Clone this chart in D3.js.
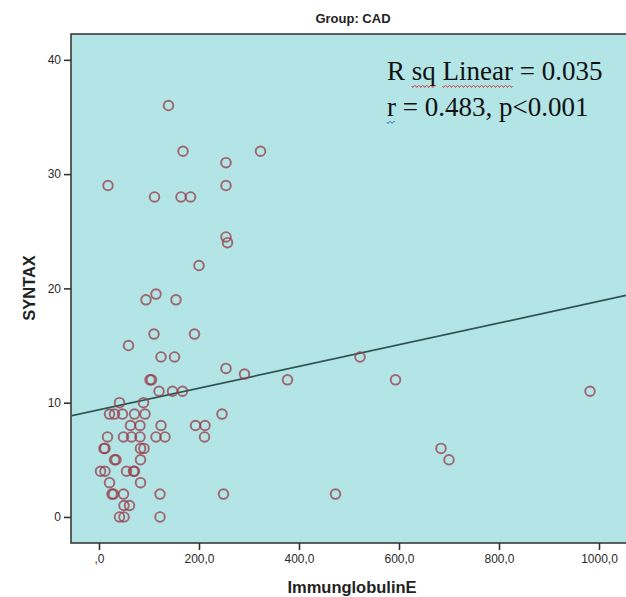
<!DOCTYPE html>
<html>
<head>
<meta charset="utf-8">
<script src="https://cdn.jsdelivr.net/npm/d3@7"></script>
<style>
	body { margin: 0; background: #fff; }
	svg { display: block; }
</style>
</head>
<body>
<div id="graph"></div>
<script>
// IgE (x) vs SYNTAX score (y)
var ige = [139, 168, 323, 254, 18, 254, 111, 164, 183, 254, 257, 200, 114, 94, 154,
	110, 191, 59, 124, 151, 522, 254, 291, 102, 105, 377, 593, 120, 147, 167, 982,
	41, 89, 21, 31, 47, 71, 92, 246, 63, 82, 124, 193, 212, 17, 49, 65, 82, 114, 132,
	211, 10, 12, 83, 90, 684, 31, 34, 83, 700, 3, 12, 55, 69, 71, 21, 83, 26, 29, 49,
	122, 249, 473, 50, 61, 41, 50, 122];
var syntax = [36, 32, 32, 31, 29, 29, 28, 28, 28, 24.5, 24, 22, 19.5, 19, 19,
	16, 16, 15, 14, 14, 14, 13, 12.5, 12, 12, 12, 12, 11, 11, 11, 11,
	10, 10, 9, 9, 9, 9, 9, 9, 8, 8, 8, 8, 8, 7, 7, 7, 7, 7, 7,
	7, 6, 6, 6, 6, 6, 5, 5, 5, 5, 4, 4, 4, 4, 4, 3, 3, 2, 2, 2,
	2, 2, 2, 1, 1, 0, 0, 0];
var xTicks = [0, 200, 400, 600, 800, 1000];
var xTickLabels = [",0", "200,0", "400,0", "600,0", "800,0", "1000,0"];
var yTicks = [0, 10, 20, 30, 40];
var fitIntercept = 9.37;
var fitSlope = 0.0095;
var title = "Group: CAD";
var xName = "ImmunglobulinE";
var yName = "SYNTAX";

var w = 626, h = 597;
var plotLeft = 71, plotTop = 34, plotRight = 626, plotBottom = 543;

var xScale = d3.scaleLinear()
	.domain([-56, 1054])
	.range([plotLeft, plotRight]);
var yScale = d3.scaleLinear()
	.domain([-2.28, 42.26])
	.range([plotBottom, plotTop]);

var svg = d3.select("#graph")
	.append("svg")
	.attr("width", w)
	.attr("height", h);

// plot background
svg.append("rect")
	.attr("x", plotLeft)
	.attr("y", plotTop)
	.attr("width", plotRight - plotLeft + 4)
	.attr("height", plotBottom - plotTop)
	.attr("fill", "#b3e4e6")
	.attr("stroke", "#3a3a3a")
	.attr("stroke-width", 1.6);

svg.append("text")
	.attr("x", 353)
	.attr("y", 23)
	.attr("text-anchor", "middle")
	.style("font", "bold 13px 'Liberation Sans', Arial, sans-serif")
	.attr("fill", "#222")
	.text(title);

// axes
var xAxis = d3.axisBottom(xScale)
	.tickValues(xTicks)
	.tickSize(7)
	.tickPadding(4)
	.tickFormat(function (d, i) { return xTickLabels[i]; });
var yAxis = d3.axisLeft(yScale)
	.tickValues(yTicks)
	.tickSize(7)
	.tickPadding(3);

var gx = svg.append("g")
	.attr("transform", "translate(0," + plotBottom + ")")
	.call(xAxis);
var gy = svg.append("g")
	.attr("transform", "translate(" + plotLeft + ",0)")
	.call(yAxis);

[gx, gy].forEach(function (g) {
	g.select(".domain").remove();
	g.selectAll("line").attr("stroke", "#333").attr("stroke-width", 1.6);
	g.selectAll("text")
		.attr("fill", "#2a2a2a")
		.style("font-family", "'Liberation Sans', Arial, sans-serif")
		.style("font-size", "12px");
});

svg.append("text")
	.attr("x", 352)
	.attr("y", 593)
	.attr("text-anchor", "middle")
	.style("font", "bold 16.5px 'Liberation Sans', Arial, sans-serif")
	.attr("fill", "#222")
	.text(xName);

svg.append("text")
	.attr("transform", "translate(35,288) rotate(-90)")
	.attr("text-anchor", "middle")
	.style("font", "bold 16.5px 'Liberation Sans', Arial, sans-serif")
	.attr("fill", "#222")
	.text(yName);

svg.append("clipPath")
	.attr("id", "plotclip")
	.append("rect")
	.attr("x", plotLeft + 1)
	.attr("y", plotTop + 1)
	.attr("width", plotRight - plotLeft)
	.attr("height", plotBottom - plotTop - 2);

var plot = svg.append("g").attr("clip-path", "url(#plotclip)");

// fit line
var xd = xScale.domain();
plot.append("line")
	.attr("x1", xScale(xd[0]))
	.attr("y1", yScale(fitIntercept + fitSlope * xd[0]))
	.attr("x2", xScale(xd[1]))
	.attr("y2", yScale(fitIntercept + fitSlope * xd[1]))
	.attr("stroke", "#2e5552")
	.attr("stroke-width", 1.7);

// points
plot.selectAll("circle")
	.data(d3.range(ige.length))
	.enter()
	.append("circle")
	.attr("cx", function (i) { return xScale(ige[i]); })
	.attr("cy", function (i) { return yScale(syntax[i]); })
	.attr("r", 4.8)
	.attr("fill", "none")
	.attr("stroke", "#9a3a46")
	.attr("stroke-opacity", 0.74)
	.attr("stroke-width", 1.9);

// annotation
var note = svg.append("g")
	.style("font-family", "'Liberation Serif', 'Times New Roman', serif")
	.style("font-size", "27px")
	.attr("fill", "#111");

var l1 = note.append("text").attr("x", 387).attr("y", 80);
l1.append("tspan").text("R ");
var sq = l1.append("tspan").text("sq");
l1.append("tspan").text(" ");
var lin = l1.append("tspan").text("Linear");
l1.append("tspan").text(" = 0.035");

var l2 = note.append("text").attr("x", 387).attr("y", 116);
var rr = l2.append("tspan").text("r");
l2.append("tspan").text(" = 0.483, p<0.001");

function squiggle(t, y, color) {
	var b = t.node().getBBox();
	var d = "M" + b.x + "," + y;
	for (var x = b.x; x < b.x + b.width - 1; x += 2) {
		d += "L" + (x + 1) + "," + (y + ((x - b.x) % 4 === 0 ? 1.5 : -0.5)) + "L" + (x + 2) + "," + y;
	}
	note.append("path")
		.attr("d", d)
		.attr("fill", "none")
		.attr("stroke", color)
		.attr("stroke-width", 0.9);
}
squiggle(sq, 86, "#d23a3a");
squiggle(lin, 86, "#d23a3a");
squiggle(rr, 122, "#3b6fd8");
</script>
</body>
</html>
